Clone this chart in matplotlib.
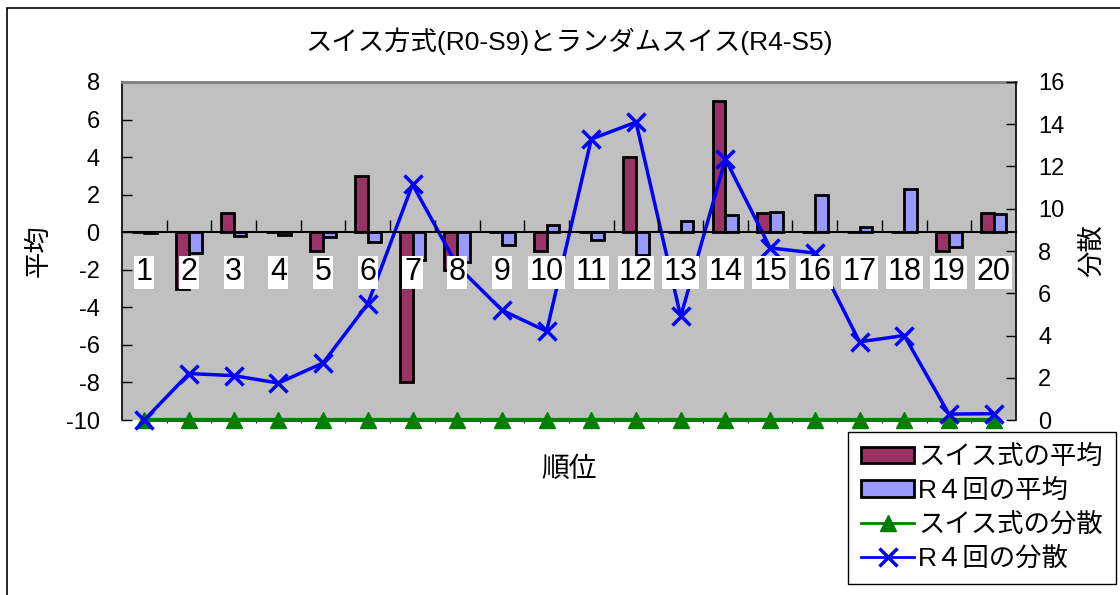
import matplotlib
matplotlib.use("Agg")
import matplotlib.pyplot as plt
from matplotlib.patches import Patch, Rectangle
from matplotlib.lines import Line2D
import numpy as np

plt.rcParams['font.family'] = ['Liberation Sans', 'Noto Sans CJK JP', 'DejaVu Sans']
plt.rcParams['axes.unicode_minus'] = False

# data
ranks = list(range(1, 21))
swiss_mean = [0, -3, 1, 0, -1, 3, -8, -2, 0, -1, 0, 4, 0, 7, 1, 0, 0, 0, -1, 1]
r4_mean = [-0.05, -1.1, -0.2, -0.15, -0.25, -0.5, -1.5, -1.6, -0.7, 0.4,
           -0.4, -1.2, 0.6, 0.9, 1.1, 2.0, 0.3, 2.3, -0.8, 0.95]
swiss_var = [0] * 20
r4_var = [0, 2.2, 2.1, 1.75, 2.7, 5.5, 11.15, 7.3, 5.2, 4.2,
          13.3, 14.1, 4.9, 12.35, 8.15, 7.9, 3.7, 4.0, 0.28, 0.3]

title = "スイス方式(R0-S9)とランダムスイス(R4-S5)"
series_names = ["スイス式の平均", "R４回の平均", "スイス式の分散", "R４回の分散"]

narrow = ['Liberation Sans Narrow', 'Liberation Sans', 'Noto Sans CJK JP']

fig = plt.figure(figsize=(11.2, 5.95), dpi=100)
ax = fig.add_axes([0.1089, 0.2941, 0.7982, 0.5681])

x = np.array(ranks)
w = 0.285
b1 = ax.bar(x - w / 2, swiss_mean, w, color='#993366', edgecolor='black', linewidth=2)
b2 = ax.bar(x + w / 2, r4_mean, w, color='#9999ff', edgecolor='black', linewidth=2)

ax.set_facecolor('#c0c0c0')
ax.set_xlim(0.5, 20.5)
ax.set_ylim(-10, 8)
ax.set_yticks(range(-10, 9, 2))
ax.spines['top'].set_color('#808080')
ax.spines['top'].set_linewidth(2)
ax.spines['bottom'].set_visible(False)
ax.spines['right'].set_visible(False)
ax.spines['left'].set_linewidth(1.2)
ax.tick_params(axis='y', direction='in', length=7, width=1, pad=16, labelsize=17)
ax.tick_params(axis='x', bottom=False, labelbottom=False)
ax.set_ylabel('平均', fontsize=19, labelpad=10, family=['Noto Sans CJK JP'])
ax.set_xlabel('順位', fontsize=20, labelpad=19, family=['Noto Sans CJK JP'])
ax.set_title(title, fontsize=19, pad=23, family=narrow)

ax2 = ax.twinx()
l1, = ax2.plot(ranks, swiss_var, color='#008000', lw=3, marker='^', ms=12, clip_on=False)
l2, = ax2.plot(ranks, r4_var, color='#0000ff', lw=2.5, marker='x', ms=13, mew=2.5, clip_on=False)
ax2.set_ylim(0, 16)
ax2.set_yticks(range(0, 17, 2))
ax2.set_xlim(0.5, 20.5)
ax2.spines['top'].set_visible(False)
ax2.spines['left'].set_visible(False)
ax2.spines['right'].set_linewidth(1.2)
ax2.spines['bottom'].set_position(('axes', 10 / 18))
ax2.spines['bottom'].set_linewidth(1.5)
ax2.tick_params(axis='y', direction='in', length=7, width=1, pad=16, labelsize=17)
ax2.set_ylabel('分散', fontsize=19, labelpad=10, family=['Noto Sans CJK JP'])

ax2.xaxis.set_visible(True)
ax2.set_axisbelow(False)
ax2.set_xticks(ranks)
ax2.set_xticks(np.arange(1.5, 20, 1), minor=True)
ax2.tick_params(axis='x', which='major', length=0, pad=18, labelsize=22)
ax2.tick_params(axis='x', which='minor', direction='in', length=9, width=1)
for lbl in ax2.get_xticklabels():
    lbl.set_family(narrow)
    lbl.set_bbox(dict(facecolor='white', edgecolor='none', pad=1))

handles = [Patch(facecolor='#993366', edgecolor='black', linewidth=2),
           Patch(facecolor='#9999ff', edgecolor='black', linewidth=2),
           Line2D([], [], color='#008000', lw=2, marker='^', ms=12),
           Line2D([], [], color='#0000ff', lw=2, marker='x', ms=13, mew=2.5)]
leg = fig.legend(handles, series_names, loc='upper left',
                 bbox_to_anchor=(848 / 1120, 1 - 432 / 595), bbox_transform=fig.transFigure,
                 frameon=True, fancybox=False, edgecolor='black', framealpha=1,
                 fontsize=19, handlelength=2.0, handleheight=0.6, handletextpad=0.15,
                 labelspacing=0.36, borderpad=0.5, borderaxespad=0)
leg.get_frame().set_linewidth(1)

# chart area border
fig.add_artist(Rectangle((7 / 1120, -0.05), 1.0, 1.05 - 8 / 595, transform=fig.transFigure,
                         fill=False, edgecolor='black', lw=1.2))

fig.savefig('out.png', dpi=100)
